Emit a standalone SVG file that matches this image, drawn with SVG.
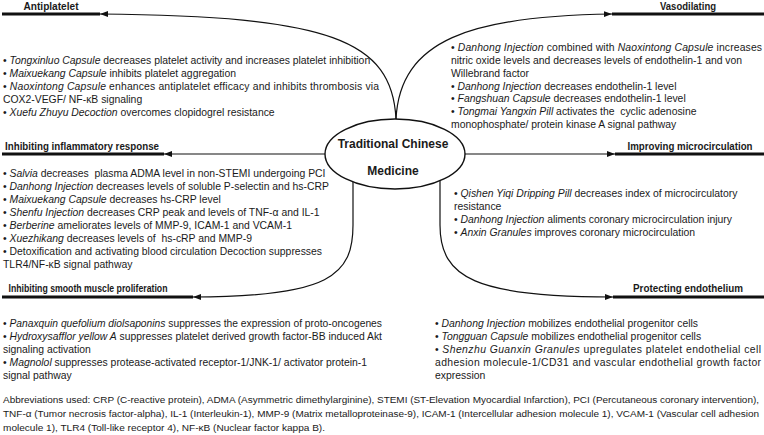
<svg xmlns="http://www.w3.org/2000/svg" width="764" height="435" viewBox="0 0 764 435">
<style>
text{font-family:"Liberation Sans",Arial,sans-serif;fill:#1a1a1a;white-space:pre}
.b{font-size:10.4px}
.h{font-size:10px;font-weight:bold;text-anchor:middle}
.t{font-size:12px;font-weight:bold;text-anchor:middle}
.a{font-size:9.6px}
.i{font-style:italic}
.thin{fill:none;stroke:#111;stroke-width:1.2}
.thick{stroke:#111;stroke-width:3.2}
</style>
<defs>
<marker id="arr" markerUnits="userSpaceOnUse" markerWidth="9" markerHeight="7" refX="8" refY="3.5" orient="auto">
<path d="M0,0.5 L8,3.5 L0,6.5 z" fill="#111"/>
</marker>
</defs>

<g id="connectors">
<path class="thin" d="M396 119 C392 40 330 16 100 14" marker-end="url(#arr)"/>
<path class="thin" d="M396 119 C400 40 470 16 612 14" marker-end="url(#arr)"/>
<path class="thin" d="M325 154 L164 154" marker-end="url(#arr)"/>
<path class="thin" d="M465 154 L615 154" marker-end="url(#arr)"/>
<path class="thin" d="M353 182 L353 225 C353 275 330 297 193 297" marker-end="url(#arr)"/>
<path class="thin" d="M440 181 L440 225 C440 278 476 297 613 297" marker-end="url(#arr)"/>
</g>

<g id="center">
<ellipse cx="395" cy="154" rx="70" ry="35" fill="#fff" stroke="#111" stroke-width="1.4"/>
<text class="t" x="393" y="147.5">Traditional Chinese</text>
<text class="t" x="393" y="174.5">Medicine</text>
</g>

<g id="antiplatelet">
<line class="thick" x1="2" y1="14" x2="100" y2="14"/>
<text class="h" x="51" y="9.5" textLength="55" lengthAdjust="spacingAndGlyphs">Antiplatelet</text>
<text class="b" x="3" y="63.5">• <tspan class="i">Tongxinluo Capsule</tspan> decreases platelet activity and increases platelet inhibition</text>
<text class="b" x="3" y="76.5">• <tspan class="i">Maixuekang Capsule</tspan> inhibits platelet aggregation</text>
<text class="b" x="3" y="89.5" textLength="376" lengthAdjust="spacing">• <tspan class="i">Naoxintong Capsule</tspan> enhances antiplatelet efficacy and inhibits thrombosis via</text>
<text class="b" x="3" y="102.5">COX2-VEGF/ NF-κB signaling</text>
<text class="b" x="3" y="115.5">• <tspan class="i">Xuefu Zhuyu Decoction</tspan> overcomes clopidogrel resistance</text>
</g>

<g id="vasodilating">
<line class="thick" x1="612" y1="14" x2="764" y2="14"/>
<text class="h" x="688" y="9.5" textLength="56" lengthAdjust="spacingAndGlyphs">Vasodilating</text>
<text class="b" x="451" y="51.2" textLength="311" lengthAdjust="spacing">• <tspan class="i">Danhong Injection</tspan> combined with <tspan class="i">Naoxintong Capsule</tspan> increases</text>
<text class="b" x="451" y="64">nitric oxide levels and decreases levels of endothelin-1 and von</text>
<text class="b" x="451" y="76.8">Willebrand factor</text>
<text class="b" x="451" y="89.6">• <tspan class="i">Danhong Injection</tspan> decreases endothelin-1 level</text>
<text class="b" x="451" y="102.4">• <tspan class="i">Fangshuan Capsule</tspan> decreases endothelin-1 level</text>
<text class="b" x="451" y="115.2">• <tspan class="i">Tongmai Yangxin Pill</tspan> activates the  cyclic adenosine</text>
<text class="b" x="451" y="128">monophosphate/ protein kinase A signal pathway</text>
</g>

<g id="inflammatory">
<line class="thick" x1="2" y1="154" x2="164" y2="154"/>
<text class="h" x="82" y="149.5" textLength="154" lengthAdjust="spacingAndGlyphs">Inhibiting inflammatory response</text>
<text class="b" x="3" y="176.7">• <tspan class="i">Salvia</tspan> decreases  plasma ADMA level in non-STEMI undergoing PCI</text>
<text class="b" x="3" y="189.7">• <tspan class="i">Danhong Injection</tspan> decreases levels of soluble P-selectin and hs-CRP</text>
<text class="b" x="3" y="202.7">• <tspan class="i">Maixuekang Capsule</tspan> decreases hs-CRP level</text>
<text class="b" x="3" y="215.7">• <tspan class="i">Shenfu Injection</tspan> decreases CRP peak and levels of TNF-α and IL-1</text>
<text class="b" x="3" y="228.7">• <tspan class="i">Berberine</tspan> ameliorates levels of MMP-9, ICAM-1 and VCAM-1</text>
<text class="b" x="3" y="241.7">• <tspan class="i">Xuezhikang</tspan> decreases levels of  hs-cRP and MMP-9</text>
<text class="b" x="3" y="254.7">• Detoxification and activating blood circulation Decoction suppresses</text>
<text class="b" x="3" y="267.7">TLR4/NF-κB signal pathway</text>
</g>

<g id="microcirculation">
<line class="thick" x1="615" y1="154" x2="764" y2="154"/>
<text class="h" x="690" y="149.5" textLength="125" lengthAdjust="spacingAndGlyphs">Improving microcirculation</text>
<text class="b" x="454" y="196.7">• <tspan class="i">Qishen Yiqi Dripping Pill</tspan> decreases index of microcirculatory</text>
<text class="b" x="454" y="209.7">resistance</text>
<text class="b" x="454" y="222.7">• <tspan class="i">Danhong Injection</tspan> aliments coronary microcirculation injury</text>
<text class="b" x="454" y="235.7">• <tspan class="i">Anxin Granules</tspan> improves coronary microcirculation</text>
</g>

<g id="smooth-muscle">
<line class="thick" x1="2" y1="297" x2="193" y2="297"/>
<text class="h" x="88" y="292" textLength="159" lengthAdjust="spacingAndGlyphs">Inhibiting smooth muscle proliferation</text>
<text class="b" x="3" y="326.7" textLength="379" lengthAdjust="spacingAndGlyphs">• <tspan class="i">Panaxquin quefolium diolsaponins</tspan> suppresses the expression of proto-oncogenes</text>
<text class="b" x="3" y="339.7" textLength="379" lengthAdjust="spacingAndGlyphs">• <tspan class="i">Hydroxysafflor yellow A</tspan> suppresses platelet derived growth factor-BB induced Akt</text>
<text class="b" x="3" y="352.7">signaling activation</text>
<text class="b" x="3" y="365.7">• <tspan class="i">Magnolol</tspan> suppresses protease-activated receptor-1/JNK-1/ activator protein-1</text>
<text class="b" x="3" y="378.7">signal pathway</text>
</g>

<g id="endothelium">
<line class="thick" x1="613" y1="297" x2="764" y2="297"/>
<text class="h" x="688" y="292" textLength="110" lengthAdjust="spacingAndGlyphs">Protecting endothelium</text>
<text class="b" x="435" y="326.7">• <tspan class="i">Danhong Injection</tspan> mobilizes endothelial progenitor cells</text>
<text class="b" x="435" y="339.7">• <tspan class="i">Tongguan Capsule</tspan> mobilizes endothelial progenitor cells</text>
<text class="b" x="435" y="352.7" textLength="326" lengthAdjust="spacing">• <tspan class="i">Shenzhu Guanxin Granules</tspan> upregulates platelet endothelial cell</text>
<text class="b" x="435" y="365.7" textLength="326" lengthAdjust="spacing">adhesion molecule-1/CD31 and vascular endothelial growth factor</text>
<text class="b" x="435" y="378.7">expression</text>
</g>

<g id="abbreviations">
<text class="a" x="3" y="402.5" textLength="756" lengthAdjust="spacingAndGlyphs">Abbreviations used: CRP (C-reactive protein), ADMA (Asymmetric dimethylarginine), STEMI (ST-Elevation Myocardial Infarction), PCI (Percutaneous coronary intervention),</text>
<text class="a" x="3" y="416.5" textLength="756" lengthAdjust="spacingAndGlyphs">TNF-α (Tumor necrosis factor-alpha), IL-1 (Interleukin-1), MMP-9 (Matrix metalloproteinase-9), ICAM-1 (Intercellular adhesion molecule 1), VCAM-1 (Vascular cell adhesion</text>
<text class="a" x="3" y="430.5" textLength="322" lengthAdjust="spacingAndGlyphs">molecule 1), TLR4 (Toll-like receptor 4), NF-κB (Nuclear factor kappa B).</text>
</g>
</svg>
